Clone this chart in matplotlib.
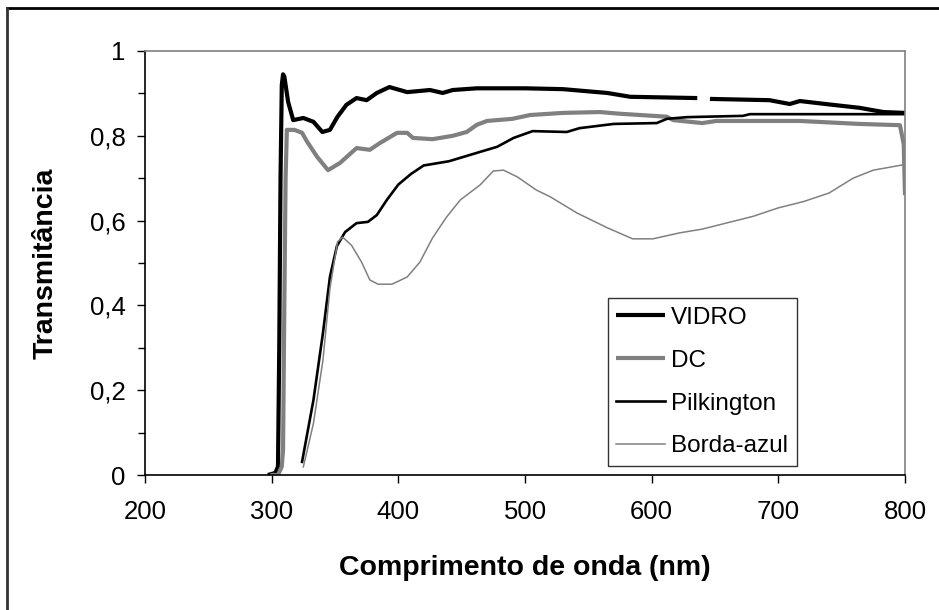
import numpy as np
import matplotlib.pyplot as plt
from matplotlib.lines import Line2D

plt.rcParams['font.family'] = ['Liberation Sans', 'DejaVu Sans']

# curves (wavelength nm, transmittance)
vidro_x = [297, 303, 305, 306, 307, 308, 309, 310, 311, 313, 317, 325, 333, 340, 346, 352,
           359, 367, 375, 383, 393, 407, 425, 435, 443, 462, 500, 530, 565, 583, 636, 637,
           646, 693, 709, 717, 743, 764, 783, 800]
vidro_y = [0.0, 0.005, 0.02, 0.3, 0.7, 0.92, 0.945, 0.94, 0.92, 0.88, 0.837, 0.842, 0.833,
           0.809, 0.814, 0.845, 0.873, 0.889, 0.884, 0.901, 0.915, 0.903, 0.908, 0.901,
           0.908, 0.912, 0.912, 0.91, 0.901, 0.892, 0.889, np.nan, 0.887, 0.884, 0.875,
           0.882, 0.873, 0.866, 0.856, 0.854]

dc_x = [299, 305, 308, 309, 310, 311, 312, 318, 324, 328, 336, 344.5, 354, 367, 377.5,
        385.5, 399, 407, 411.5, 427, 443, 454, 462, 470, 490, 504, 530, 559, 575, 612, 617,
        640, 651, 717, 764, 796, 799, 800]
dc_y = [0.0, 0.0, 0.02, 0.06, 0.4, 0.7, 0.814, 0.814, 0.807, 0.786, 0.75, 0.719, 0.736,
        0.771, 0.767, 0.783, 0.807, 0.807, 0.795, 0.792, 0.8, 0.809, 0.826, 0.835, 0.84,
        0.849, 0.854, 0.856, 0.852, 0.845, 0.837, 0.830, 0.835, 0.835, 0.828, 0.825, 0.78,
        0.66]

pilk_x = [324, 333, 340.5, 346, 351.5, 358, 367, 376, 383, 391, 400, 410, 420, 440, 464.5,
          478, 491, 506, 533, 543, 570, 604, 612, 628, 672, 677.5, 800]
pilk_y = [0.031, 0.177, 0.335, 0.467, 0.54, 0.573, 0.594, 0.597, 0.613, 0.649, 0.685, 0.71,
          0.73, 0.74, 0.762, 0.774, 0.795, 0.811, 0.809, 0.818, 0.828, 0.830, 0.84, 0.844,
          0.847, 0.851, 0.851]

borda_x = [325, 333, 340.5, 346, 352, 356, 363, 371, 377.5, 384, 395, 407, 417, 427, 438,
           449, 464.5, 475, 483, 494, 509, 520, 541, 565, 585, 601, 622, 640, 660, 680, 700,
           720, 740, 759, 775, 797.5, 800]
borda_y = [0.019, 0.122, 0.271, 0.44, 0.55, 0.561, 0.542, 0.502, 0.46, 0.45, 0.45, 0.467,
           0.502, 0.559, 0.608, 0.649, 0.684, 0.717, 0.719, 0.703, 0.672, 0.656, 0.618,
           0.583, 0.557, 0.557, 0.571, 0.58, 0.595, 0.61, 0.63, 0.645, 0.665, 0.70, 0.719,
           0.731, 0.735]

grey = '#808080'

fig = plt.figure(figsize=(9.39, 6.10), dpi=100)
ax = fig.add_axes([0.1544, 0.2213, 0.8094, 0.6951])

ax.plot(vidro_x, vidro_y, color='black', lw=3.0, label='VIDRO', solid_capstyle='butt')
ax.plot(dc_x, dc_y, color=grey, lw=3.0, label='DC', solid_capstyle='butt')
ax.plot(pilk_x, pilk_y, color='black', lw=1.9, label='Pilkington')
ax.plot(borda_x, borda_y, color=grey, lw=1.1, label='Borda-azul')

ax.set_xlim(200, 800)
ax.set_ylim(0, 1)
ax.set_xticks(np.arange(200, 801, 100))
ax.set_yticks(np.arange(0, 1.01, 0.2))
ax.set_yticks(np.arange(0.1, 1.0, 0.2), minor=True)
ax.set_yticklabels(['0', '0,2', '0,4', '0,6', '0,8', '1'])
ax.tick_params(axis='both', which='both', direction='out', labelsize=18.5,
               length=6, width=1.0, color='black')
ax.tick_params(axis='y', which='minor', length=5)
ax.tick_params(axis='x', pad=12)
ax.tick_params(axis='y', pad=8)

for s in ['top', 'right']:
    ax.spines[s].set_color(grey)
    ax.spines[s].set_linewidth(1.2)
for s in ['left', 'bottom']:
    ax.spines[s].set_color('black')
    ax.spines[s].set_linewidth(1.2)

ax.set_xlabel('Comprimento de onda (nm)', fontsize=20.5, fontweight='bold', labelpad=22)
ax.set_ylabel('Transmitância', fontsize=20.5, fontweight='bold', labelpad=22)

leg = ax.legend(loc='upper left', bbox_to_anchor=(0.609, 0.417), fontsize=17.5,
                frameon=True, fancybox=False, edgecolor='black', handlelength=2.0,
                handletextpad=0.25, labelspacing=0.86, borderpad=0.35, borderaxespad=0)
leg.get_frame().set_linewidth(1.0)

# outer chart border (only top and left edges fall inside the image)
fig.add_artist(Line2D([7 / 939, 1.0], [1 - 8 / 610, 1 - 8 / 610], transform=fig.transFigure,
                      color='black', lw=2.0))
fig.add_artist(Line2D([7 / 939, 7 / 939], [0.0, 1 - 8 / 610], transform=fig.transFigure,
                      color='#333333', lw=2.0))

fig.savefig('out.png', dpi=100)
